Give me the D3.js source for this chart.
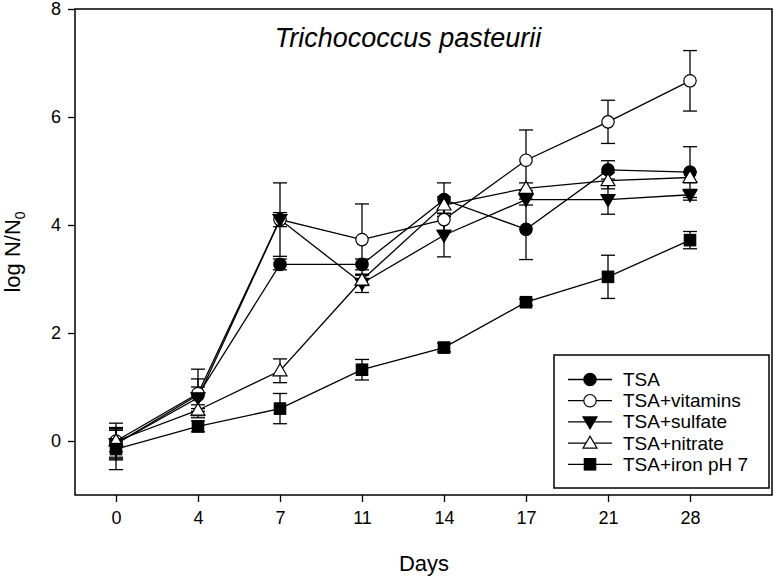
<!DOCTYPE html>
<html><head><meta charset="utf-8">
<script src="https://cdn.jsdelivr.net/npm/d3@7"></script>
<style>body{margin:0;background:#fff}svg{display:block}text{font-family:"Liberation Sans",Arial,sans-serif;fill:#000}</style>
</head><body><svg id="c" width="774" height="578"></svg>
<script>
const days = ["0","4","7","11","14","17","21","28"];
const yTicks = [0,2,4,6,8];
const seriesNames = ["TSA","TSA+vitamins","TSA+sulfate","TSA+nitrate","TSA+iron pH 7"];
const tsa      = [-0.05, 0.85, 3.27, 3.27, 4.47, 3.92, 5.02, 4.98];
const tsaErr   = [0.30, 0.30, 0.10, 0.10, 0.31, 0.56, 0.17, 0.47];
const vitamins = [0.00, 0.88, 4.10, 3.73, 4.10, 5.20, 5.91, 6.67];
const vitErr   = [0.33, 0.45, 0.68, 0.66, 0.20, 0.56, 0.40, 0.56];
const sulfate  = [-0.05, 0.80, 4.10, 2.92, 3.81, 4.47, 4.47, 4.56];
const sulfErr  = [0.25, 0.20, 0.13, 0.17, 0.40, 0.10, 0.27, 0.10];
const nitrate  = [0.00, 0.57, 1.30, 2.98, 4.37, 4.68, 4.82, 4.88];
const nitErr   = [0.20, 0.10, 0.22, 0.10, 0.15, 0.10, 0.15, 0.10];
const iron     = [-0.15, 0.27, 0.60, 1.32, 1.73, 2.57, 3.04, 3.72];
const ironErr  = [0.38, 0.10, 0.28, 0.19, 0.08, 0.06, 0.40, 0.16];

const series = [
  {name: seriesNames[0], v: tsa, e: tsaErr, shape: "circle", fill: "#000"},
  {name: seriesNames[1], v: vitamins, e: vitErr, shape: "circle", fill: "#fff"},
  {name: seriesNames[2], v: sulfate, e: sulfErr, shape: "tridown", fill: "#000"},
  {name: seriesNames[3], v: nitrate, e: nitErr, shape: "triup", fill: "#fff"},
  {name: seriesNames[4], v: iron, e: ironErr, shape: "square", fill: "#000"}
];

const L = 75, R = 772, T = 9, B = 495;
const svg = d3.select("#c");
const x = d3.scaleLinear().domain([-0.5, 8]).range([L, R]);
const y = d3.scaleLinear().domain([-1, 8]).range([B, T]);

const xAxis = d3.axisBottom(x).tickValues(d3.range(days.length)).tickFormat(i => days[i]).tickSize(7).tickPadding(9);
const yAxis = d3.axisLeft(y).tickValues(yTicks).tickSize(7).tickPadding(7);
const gx = svg.append("g").attr("transform", `translate(0,${B})`).call(xAxis);
const gy = svg.append("g").attr("transform", `translate(${L},0)`).call(yAxis);
[gx, gy].forEach(g => {
  g.select(".domain").remove();
  g.selectAll("line").attr("stroke", "#000").attr("stroke-width", 1.3);
  g.selectAll("text").attr("font-size", 18).attr("font-family", '"Liberation Sans",Arial,sans-serif').attr("fill", "#000");
});
svg.append("rect").attr("x", L).attr("y", T).attr("width", R - L).attr("height", B - T)
  .attr("fill", "none").attr("stroke", "#000").attr("stroke-width", 1.5);

function sym(g, shape, cx, cy, fill) {
  let el;
  if (shape === "circle") el = g.append("circle").attr("cx", cx).attr("cy", cy).attr("r", 6.2);
  else if (shape === "square") el = g.append("rect").attr("x", cx - 5.7).attr("y", cy - 5.7).attr("width", 11.4).attr("height", 11.4);
  else if (shape === "tridown") el = g.append("path").attr("d", `M${cx-7},${cy-5} L${cx+7},${cy-5} L${cx},${cy+7} Z`);
  else el = g.append("path").attr("d", `M${cx-7},${cy+5} L${cx+7},${cy+5} L${cx},${cy-7} Z`);
  el.attr("fill", fill).attr("stroke", "#000").attr("stroke-width", 1.2);
}

const line = d3.line().x((d, i) => x(i)).y(d => y(d));
const plot = svg.append("g");
series.forEach(s => {
  plot.append("path").attr("d", line(s.v)).attr("fill", "none").attr("stroke", "#000").attr("stroke-width", 1.3);
});
series.forEach(s => {
  const g = plot.append("g");
  s.v.forEach((v, i) => {
    const cx = x(i), y1 = y(v + s.e[i]), y2 = y(v - s.e[i]);
    g.append("line").attr("x1", cx).attr("x2", cx).attr("y1", y1).attr("y2", y2).attr("stroke", "#000").attr("stroke-width", 1.3);
    [y1, y2].forEach(yy => g.append("line").attr("x1", cx - 7).attr("x2", cx + 7).attr("y1", yy).attr("y2", yy).attr("stroke", "#000").attr("stroke-width", 1.3));
  });
});
series.forEach(s => {
  const g = plot.append("g");
  s.v.forEach((v, i) => sym(g, s.shape, x(i), y(v), s.fill));
});

svg.append("text").attr("x", 408).attr("y", 47).attr("text-anchor", "middle")
  .attr("font-size", 27).attr("font-style", "italic").text("Trichococcus pasteurii");

svg.append("text").attr("x", 424).attr("y", 571).attr("text-anchor", "middle").attr("font-size", 22).text("Days");
const yl = svg.append("text").attr("transform", "translate(20,252) rotate(-90)").attr("text-anchor", "middle").attr("font-size", 22);
yl.append("tspan").text("log N/N");
yl.append("tspan").attr("font-size", 14).attr("dy", 5).text("0");

const lg = svg.append("g");
lg.append("rect").attr("x", 554).attr("y", 355).attr("width", 215).attr("height", 133)
  .attr("fill", "#fff").attr("stroke", "#000").attr("stroke-width", 1.5);
series.forEach((s, k) => {
  const ly = 379.5 + k * 21.2;
  lg.append("line").attr("x1", 568).attr("x2", 612).attr("y1", ly).attr("y2", ly).attr("stroke", "#000").attr("stroke-width", 1.3);
  sym(lg, s.shape, 590, ly, s.fill);
  lg.append("text").attr("x", 623).attr("y", ly + 6.5).attr("font-size", 19).text(s.name);
});
</script></body></html>
